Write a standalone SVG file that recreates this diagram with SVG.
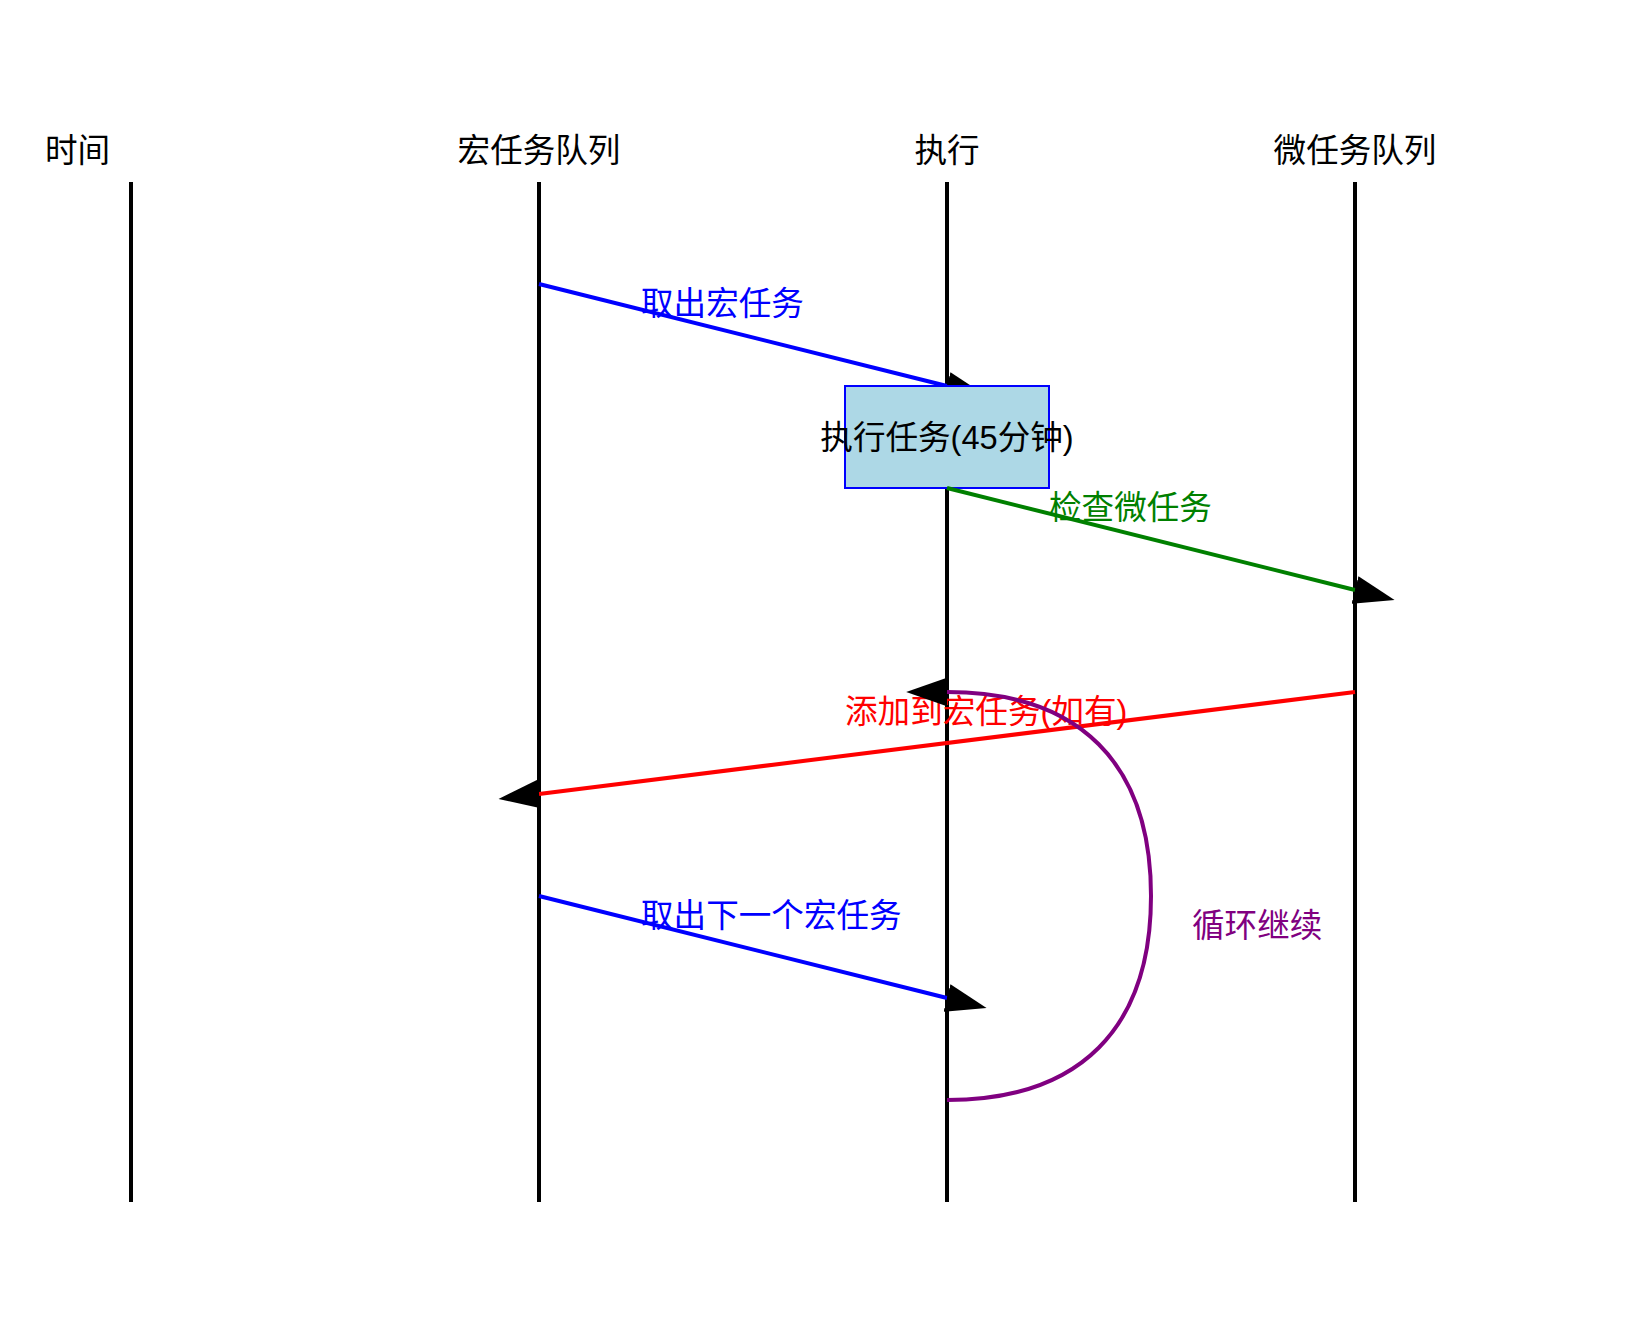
<svg xmlns="http://www.w3.org/2000/svg" width="1640" height="1323" viewBox="0 0 1640 1323">
<style>
  text { font-family: "Liberation Sans", "Noto Sans CJK SC", sans-serif; font-size: 32.6px; }
  .hdr { text-anchor: middle; fill: #000; }
  .life { stroke: #000; stroke-width: 4; }
  .msg { fill: none; stroke-width: 4; marker-end: url(#arrow); }
</style>
<defs>
  <marker id="arrow" viewBox="0 0 10 7" refX="0" refY="3.5" markerWidth="40.8" markerHeight="28.56" markerUnits="userSpaceOnUse" orient="auto">
    <path d="M0,0 L10,3.5 L0,7 z" fill="#000"/>
  </marker>
</defs>
<rect width="1640" height="1323" fill="#fff"/>
<g id="lifeline-time">
  <text class="hdr" x="77.5" y="161.6">时间</text>
  <line class="life" x1="131" y1="182" x2="131" y2="1202"/>
</g>
<g id="lifeline-macro">
  <text class="hdr" x="539" y="161.6">宏任务队列</text>
  <line class="life" x1="539" y1="182" x2="539" y2="1202"/>
</g>
<g id="lifeline-exec">
  <text class="hdr" x="947" y="161.6">执行</text>
  <line class="life" x1="947" y1="182" x2="947" y2="1202"/>
</g>
<g id="lifeline-micro">
  <text class="hdr" x="1355" y="161.6">微任务队列</text>
  <line class="life" x1="1355" y1="182" x2="1355" y2="1202"/>
</g>
<g id="connectors">
  <g id="msg-take">
    <line class="msg" x1="539" y1="284" x2="947" y2="386" stroke="blue"/>
    <text x="641" y="314.6" fill="blue">取出宏任务</text>
  </g>
</g>
<g id="task-box">
  <rect x="845" y="386" width="204" height="102" fill="lightblue" stroke="blue" stroke-width="2"/>
  <text x="947" y="449" text-anchor="middle" fill="#000">执行任务(45分钟)</text>
</g>
<g id="connectors-2">
  <g id="msg-check">
    <line class="msg" x1="947" y1="488" x2="1355" y2="590" stroke="green"/>
    <text x="1049" y="518.6" fill="green">检查微任务</text>
  </g>
  <g id="msg-add">
    <line class="msg" x1="1355" y1="692" x2="539" y2="794" stroke="red"/>
    <text x="845" y="722.6" fill="red">添加到宏任务(如有)</text>
  </g>
  <g id="msg-next">
    <line class="msg" x1="539" y1="896" x2="947" y2="998" stroke="blue"/>
    <text x="641" y="926.6" fill="blue">取出下一个宏任务</text>
  </g>
  <g id="loop">
    <path class="msg" d="M947,1100 C1079.6,1100 1151,1028.6 1151,896 C1151,763.4 1079.6,692 947,692" stroke="purple"/>
    <text x="1192" y="936.8" fill="purple">循环继续</text>
  </g>
</g>
</svg>
